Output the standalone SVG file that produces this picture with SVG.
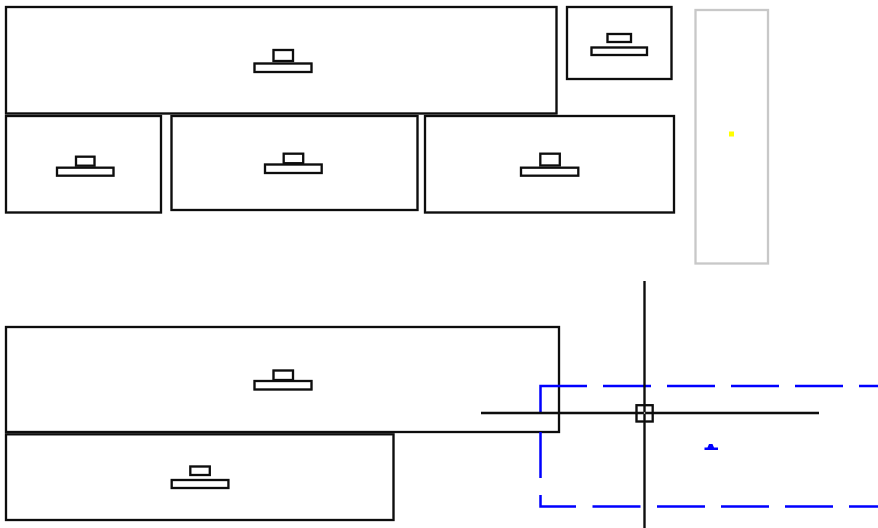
<svg xmlns="http://www.w3.org/2000/svg" width="878" height="528" viewBox="0 0 878 528">
<style>
.b,.i,.c{fill:none;stroke:#0a0a0a;stroke-width:2.300}
.d{fill:none;stroke:#0000ff;stroke-width:2.500}
</style>
<defs>
<filter id="soft" x="0" y="0" width="878" height="528" filterUnits="userSpaceOnUse"><feGaussianBlur stdDeviation="0.350"/></filter>
</defs>
<rect width="878" height="528" fill="#fff"/>
<g filter="url(#soft)">
<g id="node-1"><rect class="b" x="6" y="7" width="550.500" height="106.500"/><rect class="i" x="273.500" y="50" width="19.500" height="11"/><rect class="i" x="254.500" y="63.500" width="57" height="8.500"/></g>
<g id="node-2"><rect class="b" x="567" y="7" width="104.500" height="72"/><rect class="i" x="607.500" y="34" width="23.500" height="8"/><rect class="i" x="591.500" y="47.500" width="55.500" height="7.500"/></g>
<g id="node-3"><rect x="695.500" y="10" width="72.500" height="253.500" fill="none" stroke="#c8c8c8" stroke-width="2.300"/><rect x="729" y="131.500" width="5" height="5" fill="#ffff00"/></g>
<g id="node-4"><rect class="b" x="6" y="116" width="155" height="96.500"/><rect class="i" x="76" y="156.700" width="18.500" height="9"/><rect class="i" x="57" y="167.700" width="56.500" height="8"/></g>
<g id="node-5"><rect class="b" x="171.500" y="116" width="246" height="94"/><rect class="i" x="283.700" y="153.700" width="19.500" height="9.500"/><rect class="i" x="265" y="164.500" width="56.700" height="8.500"/></g>
<g id="node-6"><rect class="b" x="425" y="116" width="249" height="96.500"/><rect class="i" x="540.300" y="153.700" width="19.500" height="11.800"/><rect class="i" x="521" y="167.700" width="57.300" height="8"/></g>
<g id="node-7"><rect class="b" x="6" y="327" width="553" height="105"/><rect class="i" x="273.500" y="370.500" width="19.500" height="9.500"/><rect class="i" x="254.500" y="381" width="57" height="8.500"/></g>
<g id="node-8"><rect class="b" x="6" y="434.300" width="387.500" height="85.700"/><rect class="i" x="190.300" y="466.500" width="19.500" height="8.500"/><rect class="i" x="171.700" y="480" width="56.700" height="8"/></g>
<g id="connectors">
<path class="d" d="M540.500 413V386H587M603 386H651M667 386H715M731 386H779M795 386H843M859 386H878"/>
<path class="d" d="M540.500 432V478M540.500 495V506.500H576M592.500 506.500H640.500M657 506.500H705M721 506.500H769M785 506.500H833M849 506.500H878"/>
<path d="M704.500 447.500H707.500L709 444H712.500L714 447.500H718V450H704.500Z" fill="#0000ff"/>
<path class="c" d="M481 413H819M644.500 281V528"/>
<rect class="c" x="636.500" y="405.200" width="16.200" height="16.300"/>
<circle cx="644.500" cy="413" r="0.800" fill="#fff"/>
</g>
</g>
</svg>
